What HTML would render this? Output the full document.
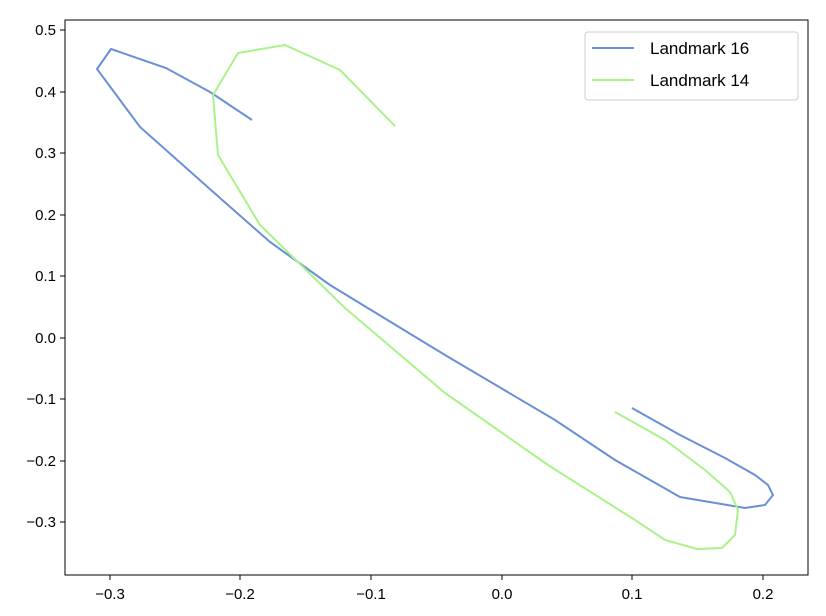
<!DOCTYPE html>
<html><head><style>body{margin:0;background:#fff}svg{display:block;font-family:"Liberation Sans",sans-serif}</style></head>
<body>
<svg width="826" height="616" viewBox="0 0 826 616">
<rect x="65" y="20" width="743" height="555" fill="#fff" stroke="#000" stroke-width="1"/>
<polyline fill="none" stroke="#6a8fd6" stroke-width="2" points="252,120 210,92 166,68 111,49 97,69 140,127 220,198 270,242 330,285 445,355 555,420 615,460 680,497 745,508 765,505 773,495 768,485 755,475 725,458 680,435 632,408"/>
<polyline fill="none" stroke="#aaf28a" stroke-width="2" points="395,126 340,70 285,45 238,53 213,95 218,155 260,225 345,308 445,393 548,465 635,520 665,540 697,549 722,548 735,535 738,510 730,492 705,470 665,440 615,412"/>
<g stroke="#000">
<line x1="110" y1="575" x2="110" y2="580"/><line x1="240" y1="575" x2="240" y2="580"/><line x1="371" y1="575" x2="371" y2="580"/><line x1="502" y1="575" x2="502" y2="580"/><line x1="632" y1="575" x2="632" y2="580"/><line x1="763" y1="575" x2="763" y2="580"/>
<line x1="60" y1="30" x2="65" y2="30"/><line x1="60" y1="92" x2="65" y2="92"/><line x1="60" y1="153" x2="65" y2="153"/><line x1="60" y1="215" x2="65" y2="215"/><line x1="60" y1="276" x2="65" y2="276"/><line x1="60" y1="338" x2="65" y2="338"/><line x1="60" y1="399" x2="65" y2="399"/><line x1="60" y1="461" x2="65" y2="461"/><line x1="60" y1="522" x2="65" y2="522"/>
</g>
<g font-size="15" fill="#000" text-anchor="middle">
<text x="110" y="599">−0.3</text><text x="240" y="599">−0.2</text><text x="371" y="599">−0.1</text><text x="502" y="599">0.0</text><text x="632" y="599">0.1</text><text x="763" y="599">0.2</text>
</g>
<g font-size="15" fill="#000" text-anchor="end">
<text x="56" y="35">0.5</text><text x="56" y="97">0.4</text><text x="56" y="158">0.3</text><text x="56" y="220">0.2</text><text x="56" y="281">0.1</text><text x="56" y="343">0.0</text><text x="56" y="404">−0.1</text><text x="56" y="466">−0.2</text><text x="56" y="527">−0.3</text>
</g>
<rect x="585" y="32" width="213" height="68" rx="3" fill="#fff" stroke="#ccc"/>
<line x1="592" y1="48" x2="634" y2="48" stroke="#6a8fd6" stroke-width="2"/>
<line x1="592" y1="80" x2="634" y2="80" stroke="#aaf28a" stroke-width="2"/>
<text x="650" y="54" font-size="17">Landmark 16</text>
<text x="650" y="86" font-size="17">Landmark 14</text>
</svg>
</body></html>
